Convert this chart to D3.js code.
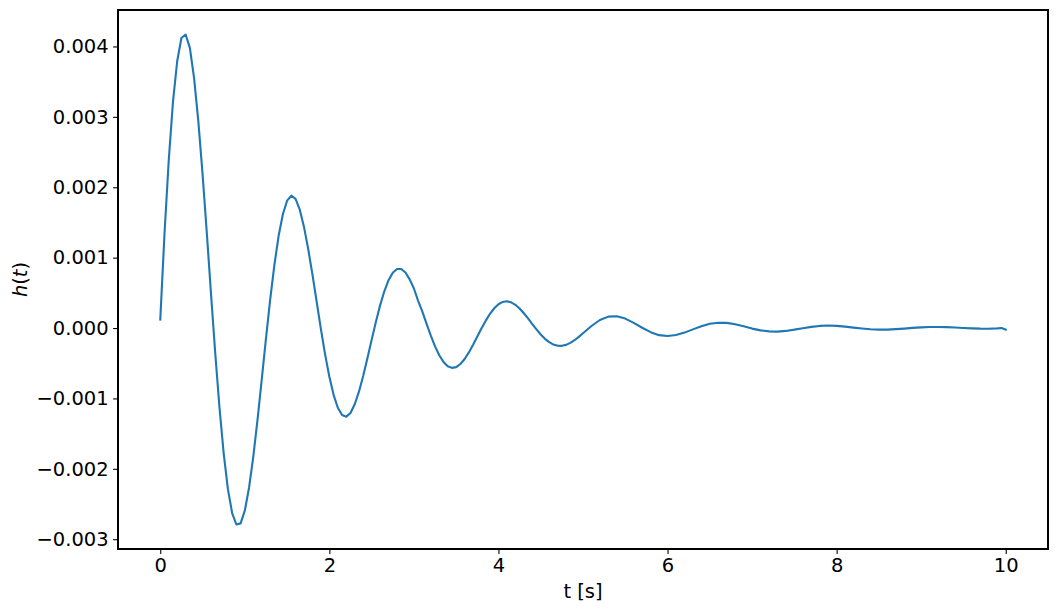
<!DOCTYPE html>
<html lang="en">
<head>
<meta charset="UTF-8">
<title>h(t)</title>
<script src="https://d3js.org/d3.v7.min.js"></script>
<style>
  body { margin: 0; background: #fff; }
  svg { display: block; }
  .axis text { font-family: "DejaVu Sans", sans-serif; font-size: 19.5px; fill: #000; }
  .axis line { stroke: #000; stroke-width: 1.1px; }
  .label { font-family: "DejaVu Sans", sans-serif; font-size: 19.5px; fill: #000; }
</style>
</head>
<body>
<div id="chart"></div>
<script>
// time samples [s]
const tSeconds = [
  0, 0.05, 0.1, 0.15, 0.2, 0.25, 0.3, 0.35, 0.4, 0.45,
  0.5, 0.55, 0.6, 0.65, 0.7, 0.75, 0.8, 0.85, 0.9, 0.95,
  1.0, 1.05, 1.1, 1.15, 1.2, 1.25, 1.3, 1.35, 1.4, 1.45,
  1.5, 1.55, 1.6, 1.65, 1.7, 1.75, 1.8, 1.85, 1.9, 1.95,
  2.0, 2.05, 2.1, 2.15, 2.2, 2.25, 2.3, 2.35, 2.4, 2.45,
  2.5, 2.55, 2.6, 2.65, 2.7, 2.75, 2.8, 2.85, 2.9, 2.95,
  3.0, 3.05, 3.1, 3.15, 3.2, 3.25, 3.3, 3.35, 3.4, 3.45,
  3.5, 3.55, 3.6, 3.65, 3.7, 3.75, 3.8, 3.85, 3.9, 3.95,
  4.0, 4.05, 4.1, 4.15, 4.2, 4.25, 4.3, 4.35, 4.4, 4.45,
  4.5, 4.55, 4.6, 4.65, 4.7, 4.75, 4.8, 4.85, 4.9, 4.95,
  5.0, 5.1, 5.2, 5.3, 5.4, 5.5, 5.6, 5.7, 5.8, 5.9,
  6.0, 6.1, 6.2, 6.3, 6.4, 6.5, 6.6, 6.7, 6.8, 6.9,
  7.0, 7.1, 7.2, 7.3, 7.4, 7.5, 7.6, 7.7, 7.8, 7.9,
  8.0, 8.1, 8.2, 8.3, 8.4, 8.5, 8.6, 8.7, 8.8, 8.9,
  9.0, 9.1, 9.2, 9.3, 9.4, 9.5, 9.6, 9.7, 9.8, 9.9,
  9.95, 10.0
];

// impulse response h(t)
const hValues = [
  0.00012, 0.00134, 0.00238, 0.00321, 0.00379, 0.00412, 0.00417, 0.00398, 0.00355, 0.00294,
  0.00219, 0.00136, 0.000488, -0.000354, -0.001125, -0.00178, -0.002289, -0.002628, -0.002791, -0.002775,
  -0.002594, -0.002268, -0.001829, -0.001303, -0.000732, -0.000151, 0.000403, 0.000898, 0.00131, 0.001617,
  0.001809, 0.00188, 0.001834, 0.001682, 0.001437, 0.001121, 0.000758, 0.000373, -0.000016, -0.000377,
  -0.000693, -0.000949, -0.001132, -0.001236, -0.001259, -0.001206, -0.001083, -0.000904, -0.00068, -0.00043,
  -0.000168, 0.000087, 0.000322, 0.000522, 0.000679, 0.000786, 0.000839, 0.000839, 0.000788, 0.000692,
  0.000562, 0.000387, 0.000234, 0.000059, -0.000109, -0.00026, -0.000386, -0.000481, -0.000542, -0.000566,
  -0.000555, -0.000511, -0.00044, -0.000346, -0.000238, -0.000121, -0.000004, 0.000105, 0.000202, 0.000281,
  0.000338, 0.000371, 0.00038, 0.000365, 0.00033, 0.000277, 0.00021, 0.000136, 0.000057, -0.00002,
  -0.000092, -0.000153, -0.000201, -0.000235, -0.000252, -0.000253, -0.000239, -0.000211, -0.000173, -0.000126,
  -0.000075, 0.000029, 0.000114, 0.000162, 0.000168, 0.000134, 0.000074, 0.000004, -0.000059, -0.000101,
  -0.000114, -0.0001, -0.000065, -0.000019, 0.000026, 0.00006, 0.000076, 0.000073, 0.000053, 0.000024,
  -0.000008, -0.000033, -0.000048, -0.000051, -0.000041, -0.000023, -0.000002, 0.000017, 0.00003, 0.000035,
  0.000031, 0.00002, 0.000006, -0.000007, -0.000018, -0.000023, -0.000022, -0.000016, -0.000008, 0.000002,
  0.00001, 0.000015, 0.000015, 0.000013, 0.000007, 0.000001, -0.000005, -0.000009, -0.00001, -0.000005,
  0.0, -0.000022
];

const xTicks = [0, 2, 4, 6, 8, 10];
const yTicks = [-0.003, -0.002, -0.001, 0, 0.001, 0.002, 0.003, 0.004];

const W = 1058, H = 612;
const margin = {top: 10, right: 10, bottom: 63, left: 118};
const width = W - margin.left - margin.right;
const height = H - margin.top - margin.bottom;

const data = tSeconds.map((t, i) => ({t: t, h: hValues[i]}));

// matplotlib-style 5% padding
function pad(ext) {
  const d = (ext[1] - ext[0]) * 0.05;
  return [ext[0] - d, ext[1] + d];
}

const x = d3.scaleLinear().domain(pad(d3.extent(tSeconds))).range([0, width]);
const y = d3.scaleLinear().domain(pad(d3.extent(hValues))).range([height, 0]);

const svg = d3.select("#chart").append("svg")
  .attr("width", W).attr("height", H);

const g = svg.append("g").attr("transform", `translate(${margin.left},${margin.top})`);

const line = d3.line().x(d => x(d.t)).y(d => y(d.h));

g.append("path")
  .datum(data)
  .attr("fill", "none")
  .attr("stroke", "#1f77b4")
  .attr("stroke-width", 2.1)
  .attr("stroke-linejoin", "round")
  .attr("stroke-linecap", "square")
  .attr("d", line);

const xAxis = g.append("g").attr("class", "axis")
  .attr("transform", `translate(0,${height})`)
  .call(d3.axisBottom(x).tickValues(xTicks).tickSize(4.9).tickPadding(4.5).tickSizeOuter(0)
    .tickFormat(d3.format("d")));
xAxis.select(".domain").remove();

const yAxis = g.append("g").attr("class", "axis")
  .call(d3.axisLeft(y).tickValues(yTicks).tickSize(4.9).tickPadding(4.5).tickSizeOuter(0)
    .tickFormat(d3.format(".3f")));
yAxis.select(".domain").remove();

g.append("rect")
  .attr("x", 0).attr("y", 0)
  .attr("width", width).attr("height", height)
  .attr("fill", "none")
  .attr("stroke", "#000")
  .attr("stroke-width", 1.1)
  .attr("shape-rendering", "crispEdges");

svg.append("text")
  .attr("class", "label")
  .attr("x", margin.left + width / 2)
  .attr("y", 598)
  .attr("text-anchor", "middle")
  .text("t [s]");

const yl = svg.append("text")
  .attr("class", "label")
  .attr("text-anchor", "middle")
  .attr("transform", `translate(27,${margin.top + height / 2}) rotate(-90)`);
yl.append("tspan").attr("font-style", "italic").text("h");
yl.append("tspan").text("(");
yl.append("tspan").attr("font-style", "italic").text("t");
yl.append("tspan").text(")");
</script>
</body>
</html>
